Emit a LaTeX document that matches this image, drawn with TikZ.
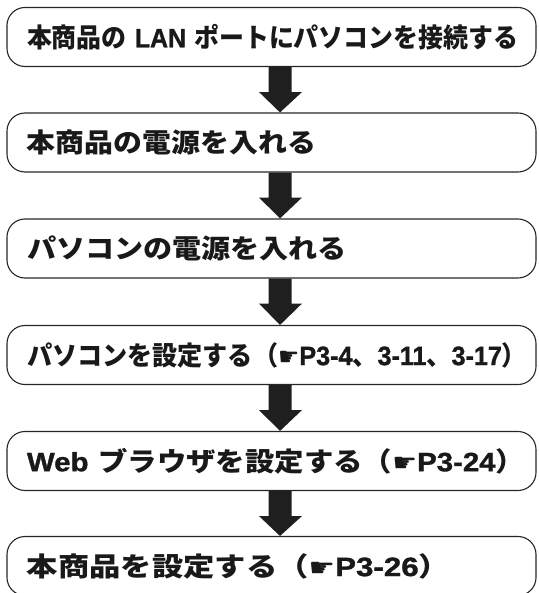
\documentclass[tikz,border=0pt]{standalone}
\usepackage{fontspec}
\usepackage{graphicx}
\IfFontExistsTF{Noto Sans CJK JP Black}
  {\newfontfamily\jp{Noto Sans CJK JP Black}}
  {\newfontfamily\jp{Noto Sans CJK JP}[UprightFont={* Bold},FakeBold=1.5]}
\newfontfamily\latf{Liberation Sans}[UprightFont={* Bold},FakeBold=1.2]
\newfontfamily\symf{DejaVu Sans}
\newcommand\fitto[2]{\resizebox{#1}{\height}{#2}}
\newcommand\hand{{\symf\fontsize{25}{28}\selectfont ☛}}
\newcommand\flowarrow[2]{%
  \fill[arrowcol] ([xshift=-3pt]#1.south) -- ([xshift=20pt]#1.south)
    -- ([xshift=20pt,yshift=-25pt]#1.south) -- ([xshift=30.5pt,yshift=-25pt]#1.south)
    -- ([xshift=8.5pt]#2.north)
    -- ([xshift=-12.5pt,yshift=-25pt]#1.south) -- ([xshift=-3pt,yshift=-25pt]#1.south) -- cycle;}
\colorlet{arrowcol}{black!88}
\begin{document}
\begin{tikzpicture}[x=1pt,y=-1pt,
  box/.style={draw=black!85, line width=1.1pt, rounded corners=18pt,
    minimum width=529pt, minimum height=59pt, text width=489pt,
    inner xsep=20pt, inner ysep=0pt, align=left,
    font=\jp\fontsize{26.5}{30}\selectfont, text=black!90}]
\useasboundingbox (0,0) rectangle (538,593);
\node[box] (b1) at (271.5,37) {\fitto{491pt}{本商品の {\latf LAN} ポートにパソコンを接続する}};
\node[box] (b2) at (271.5,142.5) {\fitto{289pt}{本商品の電源を入れる}};
\node[box] (b3) at (271.5,248.5) {\fitto{320pt}{パソコンの電源を入れる}};
\node[box] (b4) at (271.5,355) {\fitto{500pt}{パソコンを設定する（\hand{\latf P3-4}、{\latf 3-11}、{\latf 3-17}）}};
\node[box] (b5) at (271.5,461) {\fitto{498pt}{{\latf Web} ブラウザを設定する（\hand{\latf P3-24}）}};
\node[box] (b6) at (271.5,566) {\fitto{423pt}{本商品を設定する（\hand{\latf P3-26}）}};
\flowarrow{b1}{b2}
\flowarrow{b2}{b3}
\flowarrow{b3}{b4}
\flowarrow{b4}{b5}
\flowarrow{b5}{b6}
\end{tikzpicture}
\end{document}
